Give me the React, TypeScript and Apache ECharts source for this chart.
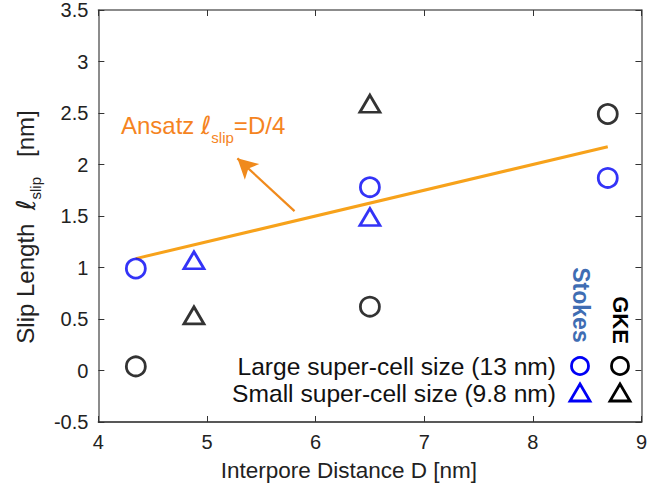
import React, { useEffect, useRef } from "react";
import * as echarts from "echarts";

// Interpore distance D [nm] and slip length [nm] for each method / super-cell size
const stokesLargeD = [4.345, 6.5, 8.69];
const stokesLargeSlip = [0.99, 1.78, 1.87];
const stokesSmallD = [4.88, 6.5];
const stokesSmallSlip = [1.07, 1.49];
const gkeLargeD = [4.345, 6.5, 8.69];
const gkeLargeSlip = [0.04, 0.62, 2.49];
const gkeSmallD = [4.88, 6.5];
const gkeSmallSlip = [0.535, 2.59];

// Ansatz slip length = D/4 drawn between the smallest and largest D
const ansatzD = [4.345, 8.69];

const xTicks = [4, 5, 6, 7, 8, 9];
const yTicks = [-0.5, 0, 0.5, 1, 1.5, 2, 2.5, 3, 3.5];

const BLUE = "#0000f5";
const ORANGE = "#f7a21b";
const LABEL_ORANGE = "#f5841f";
const FONT = "Liberation Sans, Arial, sans-serif";
const ELL_FONT = "DejaVu Sans, sans-serif";

const pairs = (xs: number[], ys: number[]) => xs.map((x, i) => [x, ys[i]]);

export default function App() {
  const ref = useRef<HTMLDivElement>(null);

  useEffect(() => {
    if (!ref.current) return;
    const chart = echarts.init(ref.current, undefined, { renderer: "svg" });

    const axisLine = { show: true, onZero: false, lineStyle: { color: "#666", width: 1.5 } };
    const tick = { show: true, inside: true, length: 6, lineStyle: { color: "#333" } };

    const option: echarts.EChartsOption = {
      animation: false,
      backgroundColor: "#fff",
      textStyle: { fontFamily: FONT },
      grid: { left: 91, right: 8, top: 10, bottom: 67 },
      xAxis: [
        {
          type: "value",
          min: xTicks[0],
          max: xTicks[xTicks.length - 1],
          interval: 1,
          axisLine: { ...axisLine, lineStyle: { color: "#222", width: 1.5 } },
          axisTick: tick,
          splitLine: { show: false },
          axisLabel: { color: "#222", fontSize: 20, margin: 10, fontFamily: FONT },
          name: "Interpore Distance D [nm]",
          nameLocation: "middle",
          nameGap: 37,
          nameTextStyle: { color: "#222", fontSize: 22.5, fontFamily: FONT, padding: [0, 42, 0, 0] },
        },
        {
          type: "value",
          position: "top",
          min: xTicks[0],
          max: xTicks[xTicks.length - 1],
          interval: 1,
          axisLine,
          axisTick: tick,
          splitLine: { show: false },
          axisLabel: { show: false },
        },
      ],
      yAxis: [
        {
          type: "value",
          min: yTicks[0],
          max: yTicks[yTicks.length - 1],
          interval: 0.5,
          axisLine,
          axisTick: tick,
          splitLine: { show: false },
          axisLabel: { color: "#222", fontSize: 20, margin: 10, fontFamily: FONT },
          name: "{a|Slip Length  }{l|ℓ}{s|slip}{a|   [nm]}",
          nameLocation: "middle",
          nameRotate: 90,
          nameGap: 48,
          nameTextStyle: {
            color: "#222",
            fontFamily: FONT,
            padding: [0, 22, 0, 0],
            rich: {
              a: { fontSize: 24, lineHeight: 28, color: "#222", fontFamily: FONT },
              l: { fontSize: 26, lineHeight: 28, color: "#222", fontFamily: ELL_FONT },
              s: { fontSize: 15, lineHeight: 15, padding: [20, 0, 0, 0], color: "#222", fontFamily: FONT },
            },
          },
        },
        {
          type: "value",
          position: "right",
          min: yTicks[0],
          max: yTicks[yTicks.length - 1],
          interval: 0.5,
          axisLine,
          axisTick: tick,
          splitLine: { show: false },
          axisLabel: { show: false },
        },
      ],
      series: [
        {
          type: "line",
          data: ansatzD.map((d) => [d, d / 4]),
          symbol: "none",
          lineStyle: { color: ORANGE, width: 3 },
          z: 1,
          markLine: {
            silent: true,
            symbol: ["none", "arrow"],
            symbolSize: [16, 20],
            label: { show: false },
            lineStyle: { color: "#f08a1c", width: 2.2, type: "solid" },
            data: [[{ coord: [5.806, 1.547] }, { coord: [5.28, 2.06] }]],
          },
        },
        {
          type: "scatter",
          data: pairs(stokesLargeD, stokesLargeSlip),
          symbol: "circle",
          symbolSize: 19,
          itemStyle: { color: "#fff", borderColor: BLUE, borderWidth: 2.8 },
        },
        {
          type: "scatter",
          data: pairs(stokesSmallD, stokesSmallSlip),
          symbol: "triangle",
          symbolSize: [20, 17],
          itemStyle: { color: "#fff", borderColor: BLUE, borderWidth: 2.8 },
        },
        {
          type: "scatter",
          data: pairs(gkeLargeD, gkeLargeSlip),
          symbol: "circle",
          symbolSize: 19,
          itemStyle: { color: "#fff", borderColor: "#000", borderWidth: 2.8 },
        },
        {
          type: "scatter",
          data: pairs(gkeSmallD, gkeSmallSlip),
          symbol: "triangle",
          symbolSize: [20, 17],
          itemStyle: { color: "#fff", borderColor: "#000", borderWidth: 2.8 },
        },
      ],
      graphic: [
        {
          type: "text",
          left: 121,
          top: 106,
          style: {
            text: "{a|Ansatz }{l|ℓ}{s|slip}{a|=D/4}",
            fontFamily: FONT,
            rich: {
              a: { fontSize: 24, lineHeight: 29, fill: LABEL_ORANGE, fontFamily: FONT },
              l: { fontSize: 25, lineHeight: 29, fill: LABEL_ORANGE, fontFamily: ELL_FONT },
              s: { fontSize: 15, lineHeight: 15, padding: [24, 0, 0, 0], fill: LABEL_ORANGE, fontFamily: FONT },
            },
          },
        },
        {
          type: "text",
          x: 556,
          y: 366,
          style: {
            text: "Large super-cell size (13 nm)",
            fontSize: 24.6,
            fontFamily: FONT,
            fill: "#111",
            align: "right",
            verticalAlign: "middle",
          },
        },
        {
          type: "text",
          x: 556,
          y: 393,
          style: {
            text: "Small super-cell size (9.8 nm)",
            fontSize: 24.6,
            fontFamily: FONT,
            fill: "#111",
            align: "right",
            verticalAlign: "middle",
          },
        },
        {
          type: "text",
          x: 581,
          y: 305,
          rotation: -Math.PI / 2,
          style: {
            text: "Stokes",
            fontSize: 23,
            fontWeight: "bold",
            fontFamily: FONT,
            fill: "#3f6db3",
            align: "center",
            verticalAlign: "middle",
          },
        },
        {
          type: "text",
          x: 620,
          y: 320,
          rotation: -Math.PI / 2,
          style: {
            text: "GKE",
            fontSize: 22,
            fontWeight: "bold",
            fontFamily: FONT,
            fill: "#000",
            align: "center",
            verticalAlign: "middle",
          },
        },
        {
          type: "circle",
          shape: { cx: 580, cy: 366, r: 8.5 },
          style: { fill: "none", stroke: BLUE, lineWidth: 2.8 },
        },
        {
          type: "circle",
          shape: { cx: 620, cy: 366, r: 8.5 },
          style: { fill: "none", stroke: "#000", lineWidth: 2.8 },
        },
        {
          type: "polygon",
          shape: { points: [[580, 384], [590, 401], [570, 401]] },
          style: { fill: "none", stroke: BLUE, lineWidth: 2.8 },
        },
        {
          type: "polygon",
          shape: { points: [[620, 384], [630, 401], [610, 401]] },
          style: { fill: "none", stroke: "#000", lineWidth: 2.8 },
        },
      ],
    };

    chart.setOption(option);
    return () => chart.dispose();
  }, []);

  return (
    <div
      ref={ref}
      style={{ position: "fixed", left: 0, top: 0, width: 650, height: 489 }}
    />
  );
}
